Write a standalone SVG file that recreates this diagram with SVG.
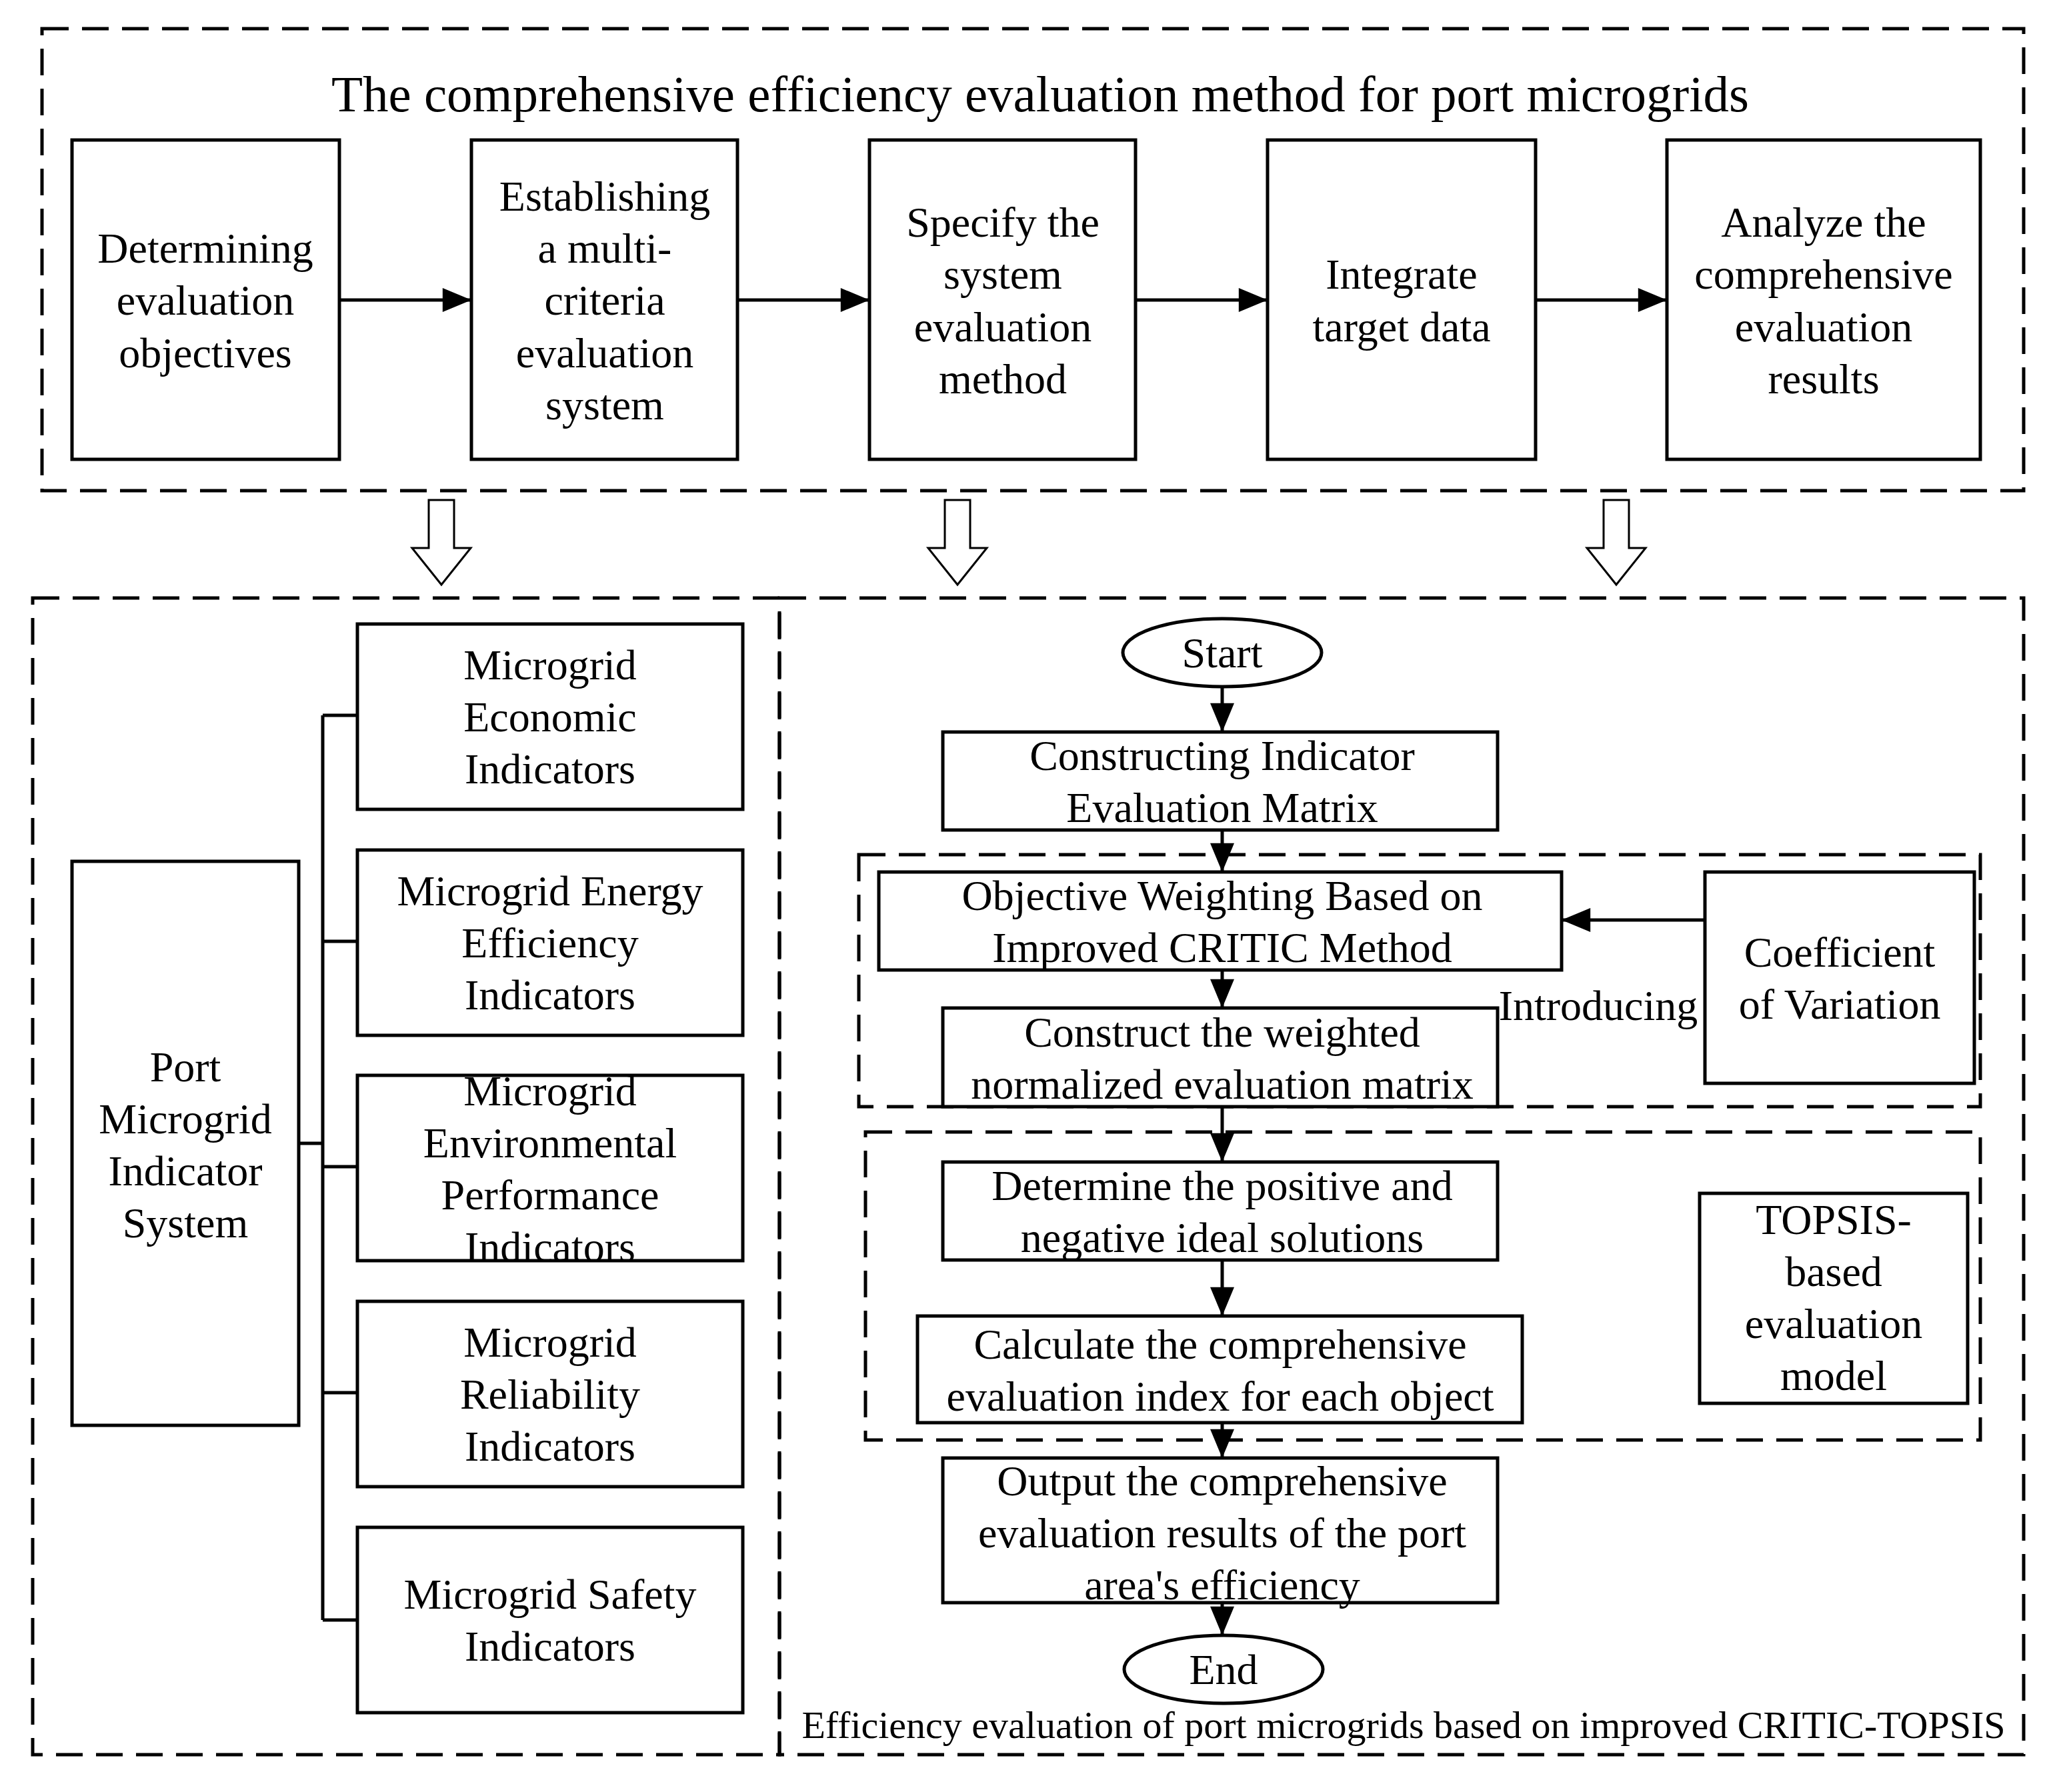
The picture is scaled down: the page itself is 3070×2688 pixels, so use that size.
<svg xmlns="http://www.w3.org/2000/svg" width="3070" height="2688" viewBox="0 0 3070 2688">
<style>
text{font-family:"Liberation Serif","Times New Roman",serif;font-size:64px;fill:#000;text-anchor:middle;dominant-baseline:central}
.b{fill:#fff;stroke:#000;stroke-width:5}
.d{fill:none;stroke:#000;stroke-width:5;stroke-dasharray:40,20}
.l{fill:none;stroke:#000;stroke-width:5}
.h{fill:#fff;stroke:#000;stroke-width:3}
</style>
<defs>
<marker id="m" viewBox="0 0 12 10" refX="12" refY="5" markerWidth="60" markerHeight="36" orient="auto" markerUnits="userSpaceOnUse"><path d="M0,0L12,5L0,10z"/></marker></defs>
<rect class="d" x="63" y="43" width="2972" height="693"/>
<text x="1560" y="141" style="font-size:77px">The comprehensive efficiency evaluation method for port microgrids</text>
<rect class="d" x="49" y="897" width="1120" height="1735"/>
<rect class="d" x="1169" y="897" width="1866" height="1735"/>
<rect class="d" x="1288" y="1282" width="1682" height="378"/>
<rect class="d" x="1298" y="1698" width="1672" height="462"/>
<g id="connectors">
<path class="l" marker-end="url(#m)" d="M509,450H707"/>
<path class="l" marker-end="url(#m)" d="M1106,450H1304"/>
<path class="l" marker-end="url(#m)" d="M1703,450H1901"/>
<path class="l" marker-end="url(#m)" d="M2303,450H2500"/>
<path class="h" d="M643,750h38v72h25l-44,55l-44,-55h25z"/>
<path class="h" d="M1417,750h38v72h25l-44,55l-44,-55h25z"/>
<path class="h" d="M2405,750h38v72h25l-44,55l-44,-55h25z"/>
<path class="l" d="M448,1715H484M484,1073V2430M484,1073H536M484,1412H536M484,1750H536M484,2089H536M484,2430H536"/>
<path class="l" marker-end="url(#m)" d="M1833,1030V1098"/>
<path class="l" marker-end="url(#m)" d="M1833,1245V1308"/>
<path class="l" marker-end="url(#m)" d="M1833,1455V1512"/>
<path class="l" marker-end="url(#m)" d="M1833,1660V1743"/>
<path class="l" marker-end="url(#m)" d="M1833,1890V1974"/>
<path class="l" marker-end="url(#m)" d="M1833,2134V2187"/>
<path class="l" marker-end="url(#m)" d="M1833,2404V2453"/>
<path class="l" marker-end="url(#m)" d="M2557,1380H2342"/>
</g>
<g id="n1"><rect class="b" x="108" y="210" width="401" height="479"/><text x="308" y="372">Determining</text><text x="308" y="450">evaluation</text><text x="308" y="529">objectives</text></g>
<g id="n2"><rect class="b" x="707" y="210" width="399" height="479"/><text x="907" y="294">Establishing</text><text x="907" y="372">a multi-</text><text x="907" y="450">criteria</text><text x="907" y="529">evaluation</text><text x="907" y="607">system</text></g>
<g id="n3"><rect class="b" x="1304" y="210" width="399" height="479"/><text x="1504" y="333">Specify the</text><text x="1504" y="411">system</text><text x="1504" y="490">evaluation</text><text x="1504" y="568">method</text></g>
<g id="n4"><rect class="b" x="1901" y="210" width="402" height="479"/><text x="2102" y="411">Integrate</text><text x="2102" y="490">target data</text></g>
<g id="n5"><rect class="b" x="2500" y="210" width="470" height="479"/><text x="2735" y="333">Analyze the</text><text x="2735" y="411">comprehensive</text><text x="2735" y="490">evaluation</text><text x="2735" y="568">results</text></g>
<g id="n6"><rect class="b" x="108" y="1292" width="340" height="846"/><text x="278" y="1600">Port</text><text x="278" y="1678">Microgrid</text><text x="278" y="1756">Indicator</text><text x="278" y="1834">System</text></g>
<g id="n7"><rect class="b" x="536" y="936" width="578" height="278"/><text x="825" y="997">Microgrid</text><text x="825" y="1075">Economic</text><text x="825" y="1153">Indicators</text></g>
<g id="n8"><rect class="b" x="536" y="1275" width="578" height="278"/><text x="825" y="1336">Microgrid Energy</text><text x="825" y="1414">Efficiency</text><text x="825" y="1492">Indicators</text></g>
<g id="n9"><rect class="b" x="536" y="1613" width="578" height="278"/><text x="825" y="1636">Microgrid</text><text x="825" y="1714">Environmental</text><text x="825" y="1792">Performance</text><text x="825" y="1870">Indicators</text></g>
<g id="n10"><rect class="b" x="536" y="1952" width="578" height="278"/><text x="825" y="2013">Microgrid</text><text x="825" y="2091">Reliability</text><text x="825" y="2169">Indicators</text></g>
<g id="n11"><rect class="b" x="536" y="2291" width="578" height="278"/><text x="825" y="2391">Microgrid Safety</text><text x="825" y="2469">Indicators</text></g>
<g id="start"><ellipse class="b" cx="1833" cy="979" rx="149" ry="51"/><text x="1833" y="979">Start</text></g>
<g id="s1"><rect class="b" x="1414" y="1098" width="832" height="147"/><text x="1833" y="1133">Constructing Indicator</text><text x="1833" y="1211">Evaluation Matrix</text></g>
<g id="s2"><rect class="b" x="1318" y="1308" width="1024" height="147"/><text x="1833" y="1343">Objective Weighting Based on</text><text x="1833" y="1421">Improved CRITIC Method</text></g>
<g id="s3"><rect class="b" x="1414" y="1512" width="832" height="148"/><text x="1833" y="1548">Construct the weighted</text><text x="1833" y="1626">normalized evaluation matrix</text></g>
<g id="cv"><rect class="b" x="2557" y="1308" width="404" height="317"/><text x="2759" y="1428">Coefficient</text><text x="2759" y="1506">of Variation</text></g>
<text x="2397" y="1508">Introducing</text>
<g id="s4"><rect class="b" x="1414" y="1743" width="832" height="147"/><text x="1833" y="1778">Determine the positive and</text><text x="1833" y="1856">negative ideal solutions</text></g>
<g id="s5"><rect class="b" x="1376" y="1974" width="907" height="160"/><text x="1830" y="2016">Calculate the comprehensive</text><text x="1830" y="2094">evaluation index for each object</text></g>
<g id="tp"><rect class="b" x="2549" y="1790" width="402" height="315"/><text x="2750" y="1829">TOPSIS-</text><text x="2750" y="1907">based</text><text x="2750" y="1985">evaluation</text><text x="2750" y="2063">model</text></g>
<g id="s6"><rect class="b" x="1414" y="2187" width="832" height="217"/><text x="1833" y="2221">Output the comprehensive</text><text x="1833" y="2299">evaluation results of the port</text><text x="1833" y="2377">area's efficiency</text></g>
<g id="end"><ellipse class="b" cx="1835" cy="2504" rx="149" ry="51"/><text x="1835" y="2504">End</text></g>
<text x="2105" y="2587" style="font-size:58px">Efficiency evaluation of port microgrids based on improved CRITIC-TOPSIS</text>
</svg>
